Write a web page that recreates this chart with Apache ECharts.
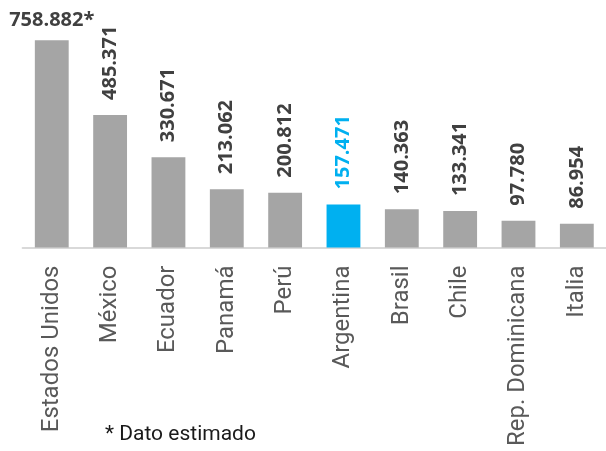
<!DOCTYPE html>
<html>
<head>
<meta charset="utf-8">
<script src="https://cdn.jsdelivr.net/npm/echarts@6/dist/echarts.min.js"></script>
<style>
  html, body { margin: 0; padding: 0; background: #fff; }
  #chart { width: 606px; height: 451px; }
</style>
</head>
<body>
<div id="chart"></div>
<script>
// paises y visitantes (miles)
var categories = ['Estados Unidos', 'México', 'Ecuador', 'Panamá', 'Perú', 'Argentina', 'Brasil', 'Chile', 'Rep. Dominicana', 'Italia']
var values = [758.882, 485.371, 330.671, 213.062, 200.812, 157.471, 140.363, 133.341, 97.780, 86.954]
var valueLabels = ['758.882*', '485.371', '330.671', '213.062', '200.812', '157.471', '140.363', '133.341', '97.780', '86.954']
var highlight = 'Argentina'
var footnote = '* Dato estimado'

var gray = '#a5a5a5'
var blue = '#00b0f0'

var data = values.map(function (v, i) {
  var isHi = categories[i] === highlight
  var item = {
    value: v,
    itemStyle: { color: isHi ? blue : gray },
    label: { color: isHi ? blue : '#404040' }
  }
  if (i === 0) {
    // el primero va horizontal
    item.label = {
      color: '#404040',
      rotate: 0,
      align: 'center',
      verticalAlign: 'bottom',
      distance: 10
    }
  }
  return item
})

var chart = echarts.init(document.getElementById('chart'))
chart.setOption({
  animation: false,
  grid: { left: 22.6, right: -4.4, top: 29, bottom: 203.5 },
  xAxis: {
    type: 'category',
    data: categories,
    axisLine: { lineStyle: { color: '#d9d9d9', width: 2 } },
    axisTick: { show: false },
    axisLabel: {
      rotate: 90,
      margin: 18,
      fontFamily: 'Roboto',
      fontSize: 24,
      color: '#595959',
      interval: 0
    }
  },
  yAxis: {
    type: 'value',
    min: 0,
    max: 800,
    show: false
  },
  series: [{
    type: 'bar',
    data: data,
    barWidth: '58%',
    label: {
      show: true,
      position: 'top',
      rotate: 90,
      align: 'left',
      verticalAlign: 'middle',
      distance: 15,
      fontFamily: 'Open Sans',
      fontWeight: 'bold',
      fontSize: 20,
      formatter: function (p) { return valueLabels[p.dataIndex] }
    }
  }],
  graphic: [{
    type: 'text',
    left: 105,
    top: 424,
    style: {
      text: footnote,
      fontFamily: 'Roboto',
      fontSize: 21,
      fill: '#1a1a1a'
    }
  }]
})
</script>
</body>
</html>
